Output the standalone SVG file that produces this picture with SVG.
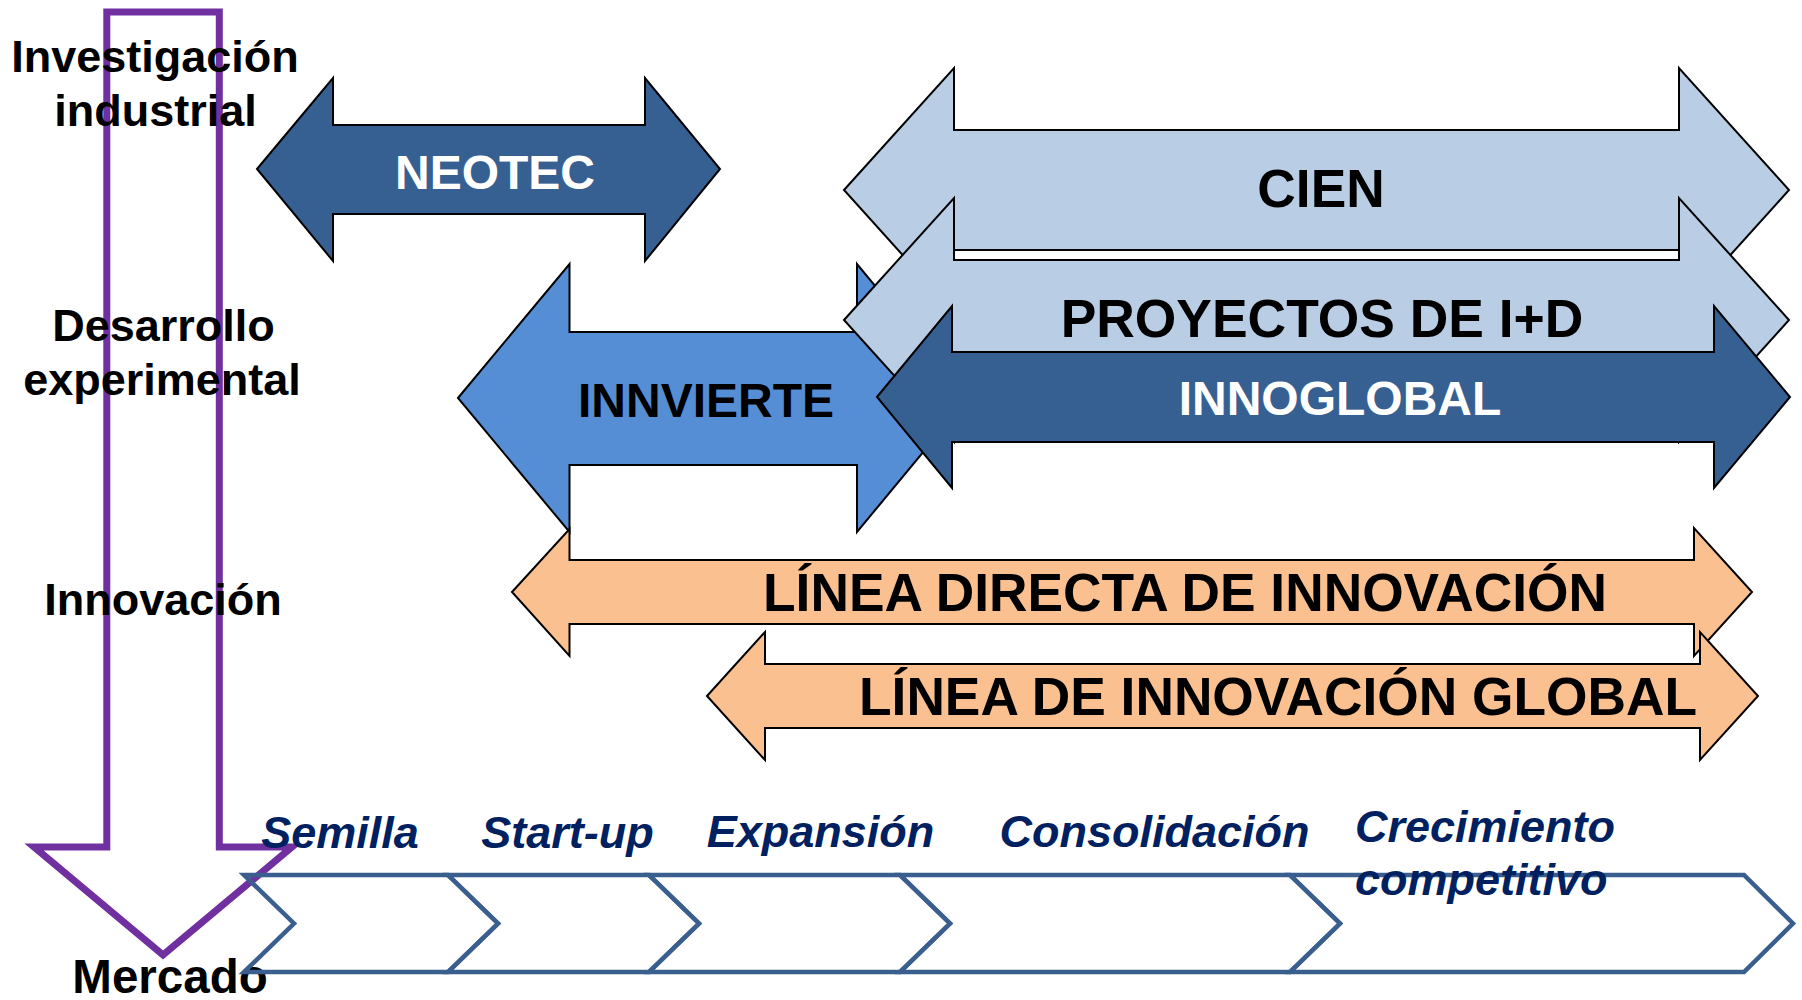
<svg xmlns="http://www.w3.org/2000/svg" width="1802" height="1000" viewBox="0 0 1802 1000">
<defs>
<style>
.lbl{font-family:"Liberation Sans",Arial,sans-serif;font-weight:bold;font-size:45px;fill:#000;text-anchor:middle}
.arr{stroke:#000;stroke-width:2;stroke-linejoin:miter}
.dark{fill:#376092}
.mid{fill:#558ED5}
.light{fill:#B9CDE5}
.orange{fill:#FAC090}
.at{font-family:"Liberation Sans",Arial,sans-serif;font-weight:bold;text-anchor:middle}
.stage{font-family:"Liberation Sans",Arial,sans-serif;font-weight:bold;font-style:italic;font-size:45px;fill:#002060}
.chev{fill:none;stroke:#3A5F8E;stroke-width:4.5;stroke-linejoin:miter}
</style>
</defs>
<rect width="1802" height="1000" fill="#fff"/>

<g id="market-arrow">
<polygon points="106.8,12 219.3,12 219.3,847 292,847 163,955 34,847 106.8,847" fill="none" stroke="#7030A0" stroke-width="7" stroke-linejoin="miter"/>
</g>

<g id="axis-labels">
<text class="lbl" x="155" y="72">Investigación</text>
<text class="lbl" x="155.5" y="126">industrial</text>
<text class="lbl" x="163.5" y="341">Desarrollo</text>
<text class="lbl" x="162" y="395">experimental</text>
<text class="lbl" x="163" y="615">Innovación</text>
<text class="lbl" x="170" y="993" style="font-size:47.5px">Mercado</text>
</g>

<g id="neotec">
<polygon class="arr dark" points="257,169 333,78 333,125 645,125 645,78 720,169 645,261 645,214 333,214 333,261"/>
<text class="at" x="495" y="189" font-size="48" fill="#fff">NEOTEC</text>
</g>

<g id="cien">
<polygon class="arr light" points="844,190 954,68 954,130 1679,130 1679,68 1789,190 1679,312 1679,250 954,250 954,312"/>
<text class="at" x="1321" y="207" font-size="53.3" fill="#000">CIEN</text>
</g>

<g id="innvierte">
<polygon class="arr mid" points="458,398 569.5,264 569.5,332 857,332 857,264 968,398 857,532 857,465 569.5,465 569.5,532"/>
<text class="at" x="706" y="417" font-size="48" fill="#000">INNVIERTE</text>
</g>

<g id="proyectos">
<polygon class="arr light" points="844,320 954,198 954,260 1679,260 1679,198 1789,320 1679,442 1679,380 954,380 954,442"/>
<text class="at" x="1322" y="337" font-size="53.4" fill="#000">PROYECTOS DE I+D</text>
</g>

<g id="innoglobal">
<polygon class="arr dark" points="877,397 952,306 952,352 1714,352 1714,306 1790,397 1714,488 1714,442 952,442 952,488"/>
<text class="at" x="1340" y="415" font-size="48" fill="#fff">INNOGLOBAL</text>
</g>

<g id="linea-directa">
<polygon class="arr orange" points="512,592 569.5,529 569.5,560 1694,560 1694,528 1752,592 1694,656 1694,624 569.5,624 569.5,656"/>
<text class="at" x="1185" y="611" font-size="53.3" fill="#000">LÍNEA DIRECTA DE INNOVACIÓN</text>
</g>

<g id="linea-global">
<polygon class="arr orange" points="707,696 765,632 765,664 1700,664 1700,632 1758,696 1700,760 1700,728 765,728 765,760"/>
<text class="at" x="1278" y="715" font-size="53.3" fill="#000">LÍNEA DE INNOVACIÓN GLOBAL</text>
</g>

<g id="timeline">
<polygon class="chev" points="244,875 448,875 498,923.5 448,972 244,972 294,923.5"/>
<polygon class="chev" points="448,875 649,875 699,923.5 649,972 448,972 498,923.5"/>
<polygon class="chev" points="649,875 900,875 950,923.5 900,972 649,972 699,923.5"/>
<polygon class="chev" points="900,875 1290,875 1340,923.5 1290,972 900,972 950,923.5"/>
<polygon class="chev" points="1290,875 1744,875 1793,923.5 1744,972 1290,972 1340,923.5"/>
</g>

<g id="stages">
<text class="stage" x="340" y="848" text-anchor="middle">Semilla</text>
<text class="stage" x="567.5" y="848" text-anchor="middle">Start-up</text>
<text class="stage" x="820.5" y="847" text-anchor="middle">Expansión</text>
<text class="stage" x="1154.5" y="847" text-anchor="middle">Consolidación</text>
<text class="stage" x="1355" y="842">Crecimiento</text>
<text class="stage" x="1355" y="895">competitivo</text>
</g>
</svg>
